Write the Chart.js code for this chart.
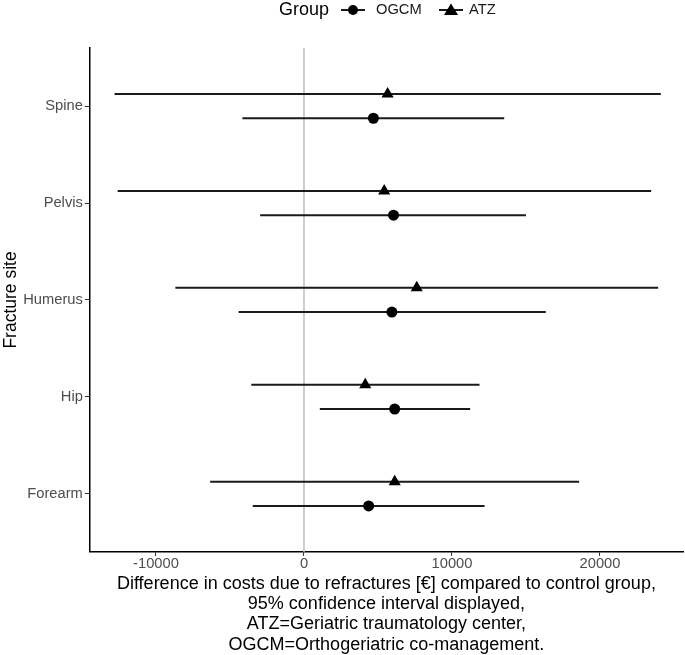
<!DOCTYPE html>
<html>
<head>
<meta charset="utf-8">
<script src="https://cdn.jsdelivr.net/npm/chart.js@4.4.1/dist/chart.umd.min.js"></script>
<style>
  html, body { margin: 0; padding: 0; background: #fff; }
  #wrap { width: 685px; height: 655px; }
</style>
</head>
<body>
<div id="wrap"><canvas id="c" width="685" height="655"></canvas></div>
<script>
const sites = ["Spine", "Pelvis", "Humerus", "Hip", "Forearm"];
const ogcmEst  = [4690, 6050, 5940, 6130, 4370];
const ogcmLow  = [-4160, -2960, -4420, 1070, -3460];
const ogcmHigh = [13530, 15000, 16340, 11230, 12200];
const atzEst   = [5650, 5420, 7620, 4140, 6130];
const atzLow   = [-12800, -12590, -8690, -3560, -6340];
const atzHigh  = [24110, 23460, 23930, 11860, 18590];
const xTicks = [-10000, 0, 10000, 20000];

const DODGE = 0.125;
const font = "'Liberation Sans', Arial, sans-serif";

function rows(est, lo, hi, shift) {
    return sites.map((s, i) => ({ x: est[i], y: i + 1 + shift, lo: lo[i], hi: hi[i] }));
}

// zero line + interval bars, drawn under the points
const intervals = {
    id: "intervals",
    beforeDatasetsDraw(chart) {
        const ctx = chart.ctx, xs = chart.scales.x, ys = chart.scales.y, a = chart.chartArea;
        ctx.save();
        ctx.strokeStyle = "#bebebe";
        ctx.lineWidth = 1.5;
        const x0 = xs.getPixelForValue(0);
        ctx.beginPath(); ctx.moveTo(x0, a.top); ctx.lineTo(x0, a.bottom); ctx.stroke();
        ctx.strokeStyle = "#1a1a1a";
        ctx.lineWidth = 2;
        chart.data.datasets.forEach(ds => {
            ds.data.forEach(p => {
                const y = ys.getPixelForValue(p.y);
                ctx.beginPath();
                ctx.moveTo(xs.getPixelForValue(p.lo), y);
                ctx.lineTo(xs.getPixelForValue(p.hi), y);
                ctx.stroke();
            });
        });
        ctx.restore();
    }
};

// ggplot style legend on top
const topLegend = {
    id: "topLegend",
    afterDraw(chart) {
        const ctx = chart.ctx, y = 10;
        ctx.save();
        ctx.fillStyle = "#000";
        ctx.textBaseline = "middle";
        ctx.font = "18px " + font;
        ctx.fillText("Group", 279, y);
        ctx.font = "14.7px " + font;
        ctx.fillStyle = "#1a1a1a";
        ctx.fillText("OGCM", 376, y);
        ctx.fillText("ATZ", 469, y);
        ctx.strokeStyle = "#1a1a1a";
        ctx.lineWidth = 2;
        ctx.beginPath(); ctx.moveTo(341, y); ctx.lineTo(365, y); ctx.stroke();
        ctx.beginPath(); ctx.moveTo(439, y); ctx.lineTo(463, y); ctx.stroke();
        ctx.fillStyle = "#000";
        ctx.beginPath(); ctx.arc(353, y, 5, 0, Math.PI * 2); ctx.fill();
        ctx.beginPath();
        ctx.moveTo(451, y - 6.5); ctx.lineTo(458, y + 5); ctx.lineTo(444, y + 5);
        ctx.closePath(); ctx.fill();
        ctx.restore();
    }
};

new Chart(document.getElementById("c"), {
    type: "scatter",
    data: {
        datasets: [
            {
                label: "OGCM",
                data: rows(ogcmEst, ogcmLow, ogcmHigh, DODGE),
                pointStyle: "circle",
                pointRadius: 5.5,
                backgroundColor: "#000",
                borderColor: "#000",
                borderWidth: 0
            },
            {
                label: "ATZ",
                data: rows(atzEst, atzLow, atzHigh, -DODGE),
                pointStyle: "triangle",
                pointRadius: 7,
                backgroundColor: "#000",
                borderColor: "#000",
                borderWidth: 0
            }
        ]
    },
    options: {
        responsive: false,
        animation: false,
        layout: { autoPadding: false, padding: { top: 48, right: 2, left: 2, bottom: 0 } },
        plugins: { legend: { display: false }, tooltip: { enabled: false } },
        scales: {
            x: {
                type: "linear",
                min: -14470,
                max: 25610,
                afterBuildTicks: axis => { axis.ticks = xTicks.map(v => ({ value: v })); },
                afterFit: axis => { axis.paddingLeft = 0; axis.paddingRight = 0; },
                ticks: {
                    color: "#4d4d4d",
                    font: { family: font, size: 14.7, lineHeight: 1.0 },
                    padding: 1,
                    maxRotation: 0,
                    callback: v => String(v)
                },
                grid: { display: true, drawOnChartArea: false, drawTicks: true, tickLength: 4, color: "#333", lineWidth: 1 },
                border: { display: true, color: "#000", width: 1.5 },
                title: {
                    display: true,
                    text: [
                        "Difference in costs due to refractures [\u20ac] compared to control group,",
                        "95% confidence interval displayed,",
                        "ATZ=Geriatric traumatology center,",
                        "OGCM=Orthogeriatric co-management."
                    ],
                    color: "#000",
                    font: { family: font, size: 18, lineHeight: 1.13 },
                    padding: { top: 1, bottom: 0 }
                }
            },
            y: {
                type: "linear",
                reverse: true,
                min: 0.4,
                max: 5.6,
                afterBuildTicks: axis => { axis.ticks = sites.map((s, i) => ({ value: i + 1 })); },
                ticks: {
                    color: "#4d4d4d",
                    font: { family: font, size: 14.7 },
                    padding: 2,
                    callback: v => sites[Math.round(v) - 1]
                },
                grid: { display: true, drawOnChartArea: false, drawTicks: true, tickLength: 5, color: "#333", lineWidth: 1 },
                border: { display: true, color: "#000", width: 1.5 },
                title: {
                    display: true,
                    text: "Fracture site",
                    color: "#000",
                    font: { family: font, size: 17.5, lineHeight: 1.1 },
                    padding: { top: 0, bottom: 0 }
                }
            }
        }
    },
    plugins: [intervals, topLegend]
});
</script>
</body>
</html>
